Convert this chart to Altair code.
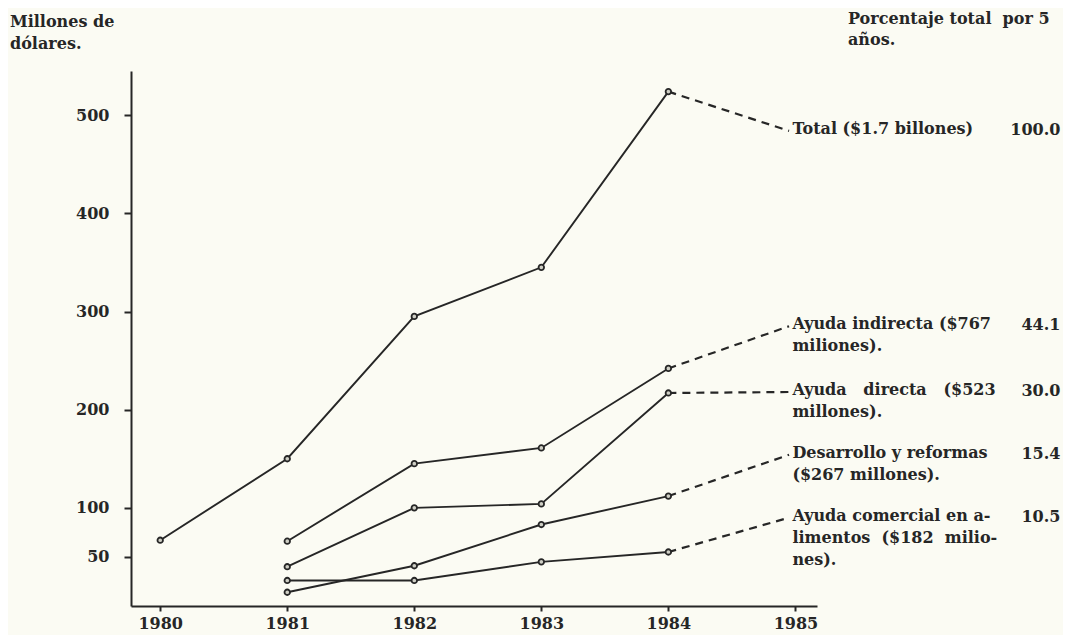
import altair as alt
import pandas as pd

# ---------------- data ----------------
years = [1980, 1981, 1982, 1983, 1984]
series_names = ["Total", "Indirecta", "Directa", "Desarrollo", "Alimentos"]
total      = [67, 150, 295, 345, 524]
indirecta  = [None, 66, 145, 161, 242]
directa    = [None, 40, 100, 104, 217]
desarrollo = [None, 14, 41, 83, 112]
alimentos  = [None, 26, 26, 45, 55]
series_values = [total, indirecta, directa, desarrollo, alimentos]

# end of the dashed leader lines (year axis, millions)
leader_end_year = [1984.95, 1984.95, 1984.95, 1984.95, 1984.95]
leader_end_value = [484, 285, 218, 154, 90]
label_year = 1985

NB = "\u00a0"
labels = [
    "Total ($1.7 billones)",
    "Ayuda indirecta ($767\nmiliones).",
    f"Ayuda{NB}{NB}{NB}directa{NB}{NB}{NB}($523\nmillones).",
    "Desarrollo y reformas\n($267 millones).",
    f"Ayuda{NB}comercial{NB}en{NB}a-\nlimentos{NB}{NB}($182{NB}{NB}milio-\nnes).",
]
percents = ["100.0", "44.1", "30.0", "15.4", "10.5"]

y_ticks = [50, 100, 200, 300, 400, 500]
x_ticks = [1980, 1981, 1982, 1983, 1984, 1985]

left_title = "Millones de\ndólares."
right_title = f"Porcentaje{NB}total{NB}{NB}por{NB}5\naños."

# ---------------- tables ----------------
rows = []
for name, vals in zip(series_names, series_values):
    for yr, v in zip(years, vals):
        if v is not None:
            rows.append({"series": name, "year": yr, "value": v})
lines_df = pd.DataFrame(rows)

lead_rows = []
for name, vals, ex, ey in zip(series_names, series_values, leader_end_year, leader_end_value):
    lead_rows.append({"series": name, "year": years[-1], "value": vals[-1], "o": 0})
    lead_rows.append({"series": name, "year": ex, "value": ey, "o": 1})
lead_df = pd.DataFrame(lead_rows)

lab_df = pd.DataFrame({
    "series": series_names,
    "year": [label_year] * len(series_names),
    "value": leader_end_value,
    "label": labels,
    "pct": percents,
})

INK = "#262626"
FONT = "DejaVu Serif"

xs = alt.Scale(domain=[1979.77, 1985.17], nice=False, zero=False)
ys = alt.Scale(domain=[0, 545], nice=False)
xaxis = alt.Axis(values=x_ticks, format="d", title=None, tickSize=5, labelPadding=4,
                 labelFontSize=16)
yaxis = alt.Axis(values=y_ticks, title=None, tickSize=7, labelPadding=15,
                 labelFontSize=16)

def X():
    return alt.X("year:Q", scale=xs, axis=xaxis)

def Y():
    return alt.Y("value:Q", scale=ys, axis=yaxis)

lines = alt.Chart(lines_df).mark_line(color=INK, strokeWidth=1.9).encode(
    x=X(), y=Y(), detail="series:N", order="year:Q"
)
points = alt.Chart(lines_df).mark_point(
    shape="circle", filled=True, fill="#cfcfc5", stroke=INK, strokeWidth=1.8, size=30, opacity=1
).encode(x=X(), y=Y())

leaders = alt.Chart(lead_df).mark_line(
    color=INK, strokeWidth=2.2, strokeDash=[8, 6]
).encode(x=X(), y=Y(), detail="series:N", order="o:Q")

label_text = alt.Chart(lab_df).mark_text(
    align="left", baseline="top", dx=-3, dy=-10, lineBreak="\n", lineHeight=22,
    font=FONT, fontSize=16, fontWeight="bold", color=INK
).encode(x=X(), y=Y(), text="label:N")

pct_text = alt.Chart(lab_df).mark_text(
    align="right", baseline="middle", dx=265, dy=-1,
    font=FONT, fontSize=16, fontWeight="bold", color=INK
).encode(x=X(), y=Y(), text="pct:N")

head_df = pd.DataFrame({"t": [left_title], "r": [right_title]})
head_left = alt.Chart(head_df).mark_text(
    align="left", baseline="top", lineBreak="\n", lineHeight=22,
    font=FONT, fontSize=16, fontWeight="bold", color=INK
).encode(x=alt.value(-121), y=alt.value(-57), text="t:N")
head_right = alt.Chart(head_df).mark_text(
    align="left", baseline="top", lineBreak="\n", lineHeight=21,
    font=FONT, fontSize=16, fontWeight="bold", color=INK
).encode(x=alt.value(717), y=alt.value(-60), text="r:N")

chart = alt.layer(lines, leaders, points, label_text, pct_text, head_left, head_right).properties(
    width=686, height=535,
    autosize=alt.AutoSizeParams(type="none"),
    padding={"left": 123, "top": 63, "right": 246, "bottom": 29},
    background="#fbfbf3",
).configure_view(stroke=None).configure_axis(
    domainColor=INK, domainWidth=2, tickColor=INK, tickWidth=2,
    labelColor=INK, labelFont=FONT, labelFontWeight="bold", grid=False
)

chart.save("out.html", embed_options={"renderer": "svg", "actions": False})
